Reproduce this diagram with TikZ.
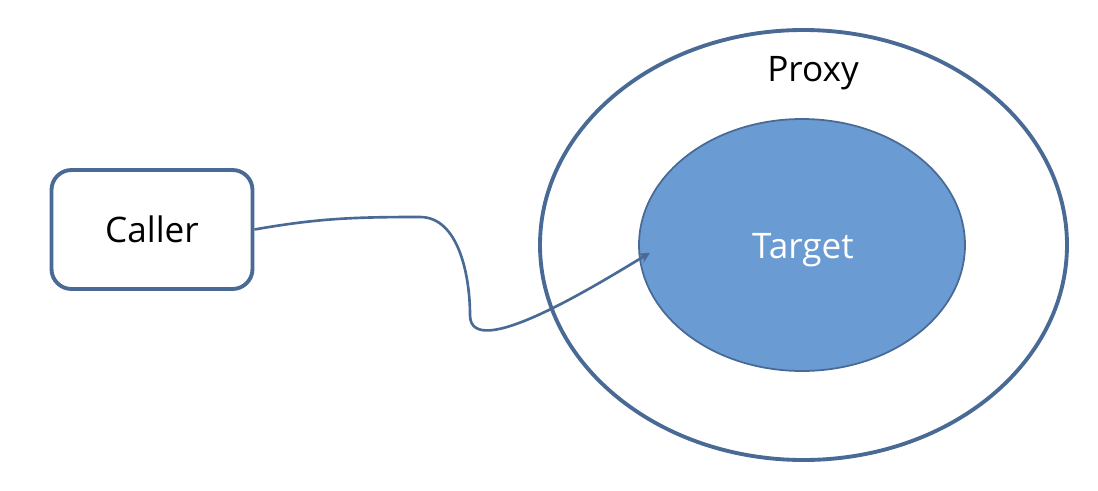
\documentclass[tikz,border=0pt]{standalone}
\usepackage{fontspec}
\setmainfont{Open Sans}
\usetikzlibrary{shapes.geometric, arrows.meta}
\definecolor{lineblue}{HTML}{4A6A96}
\definecolor{fillblue}{HTML}{6A9BD2}

\begin{document}
\begin{tikzpicture}[font=\fontsize{20}{24}\selectfont,
    box/.style={draw=lineblue, line width=2.2pt, rounded corners=0.4cm, inner sep=0pt,
                minimum width=4.02cm, minimum height=2.38cm},
    outer/.style={ellipse, draw=lineblue, line width=2.2pt, inner sep=0pt,
                  minimum width=10.54cm, minimum height=8.6cm},
    inner/.style={ellipse, draw=lineblue, line width=1pt, fill=fillblue,
                  inner sep=0pt, minimum width=6.52cm, minimum height=5.04cm}]

   \useasboundingbox (0,0) rectangle (21.96,9.8);

   \node[box] (caller) at (3.04,5.21) {Caller};
   \node[outer] (proxy) at (16.07,4.9) {};
   \node (proxylabel) at (16.26,8.34) {Proxy};
   \node[inner] (target) at (16.04,4.9) {};
   \node[text=white] (targetlabel) at (16.06,4.8) {Target};

    \draw[lineblue, line width=1.5pt, -{Stealth[length=6pt,width=6pt]}, shorten >=-0.25cm]
    (caller.east) to[out=10, in=180] (8.4,5.46)
                  to[out=0, in=90, looseness=0.9] (9.4,3.5)
                  to[out=-90, in=211, looseness=0.7] (target.185);
\end{tikzpicture}
\end{document}
